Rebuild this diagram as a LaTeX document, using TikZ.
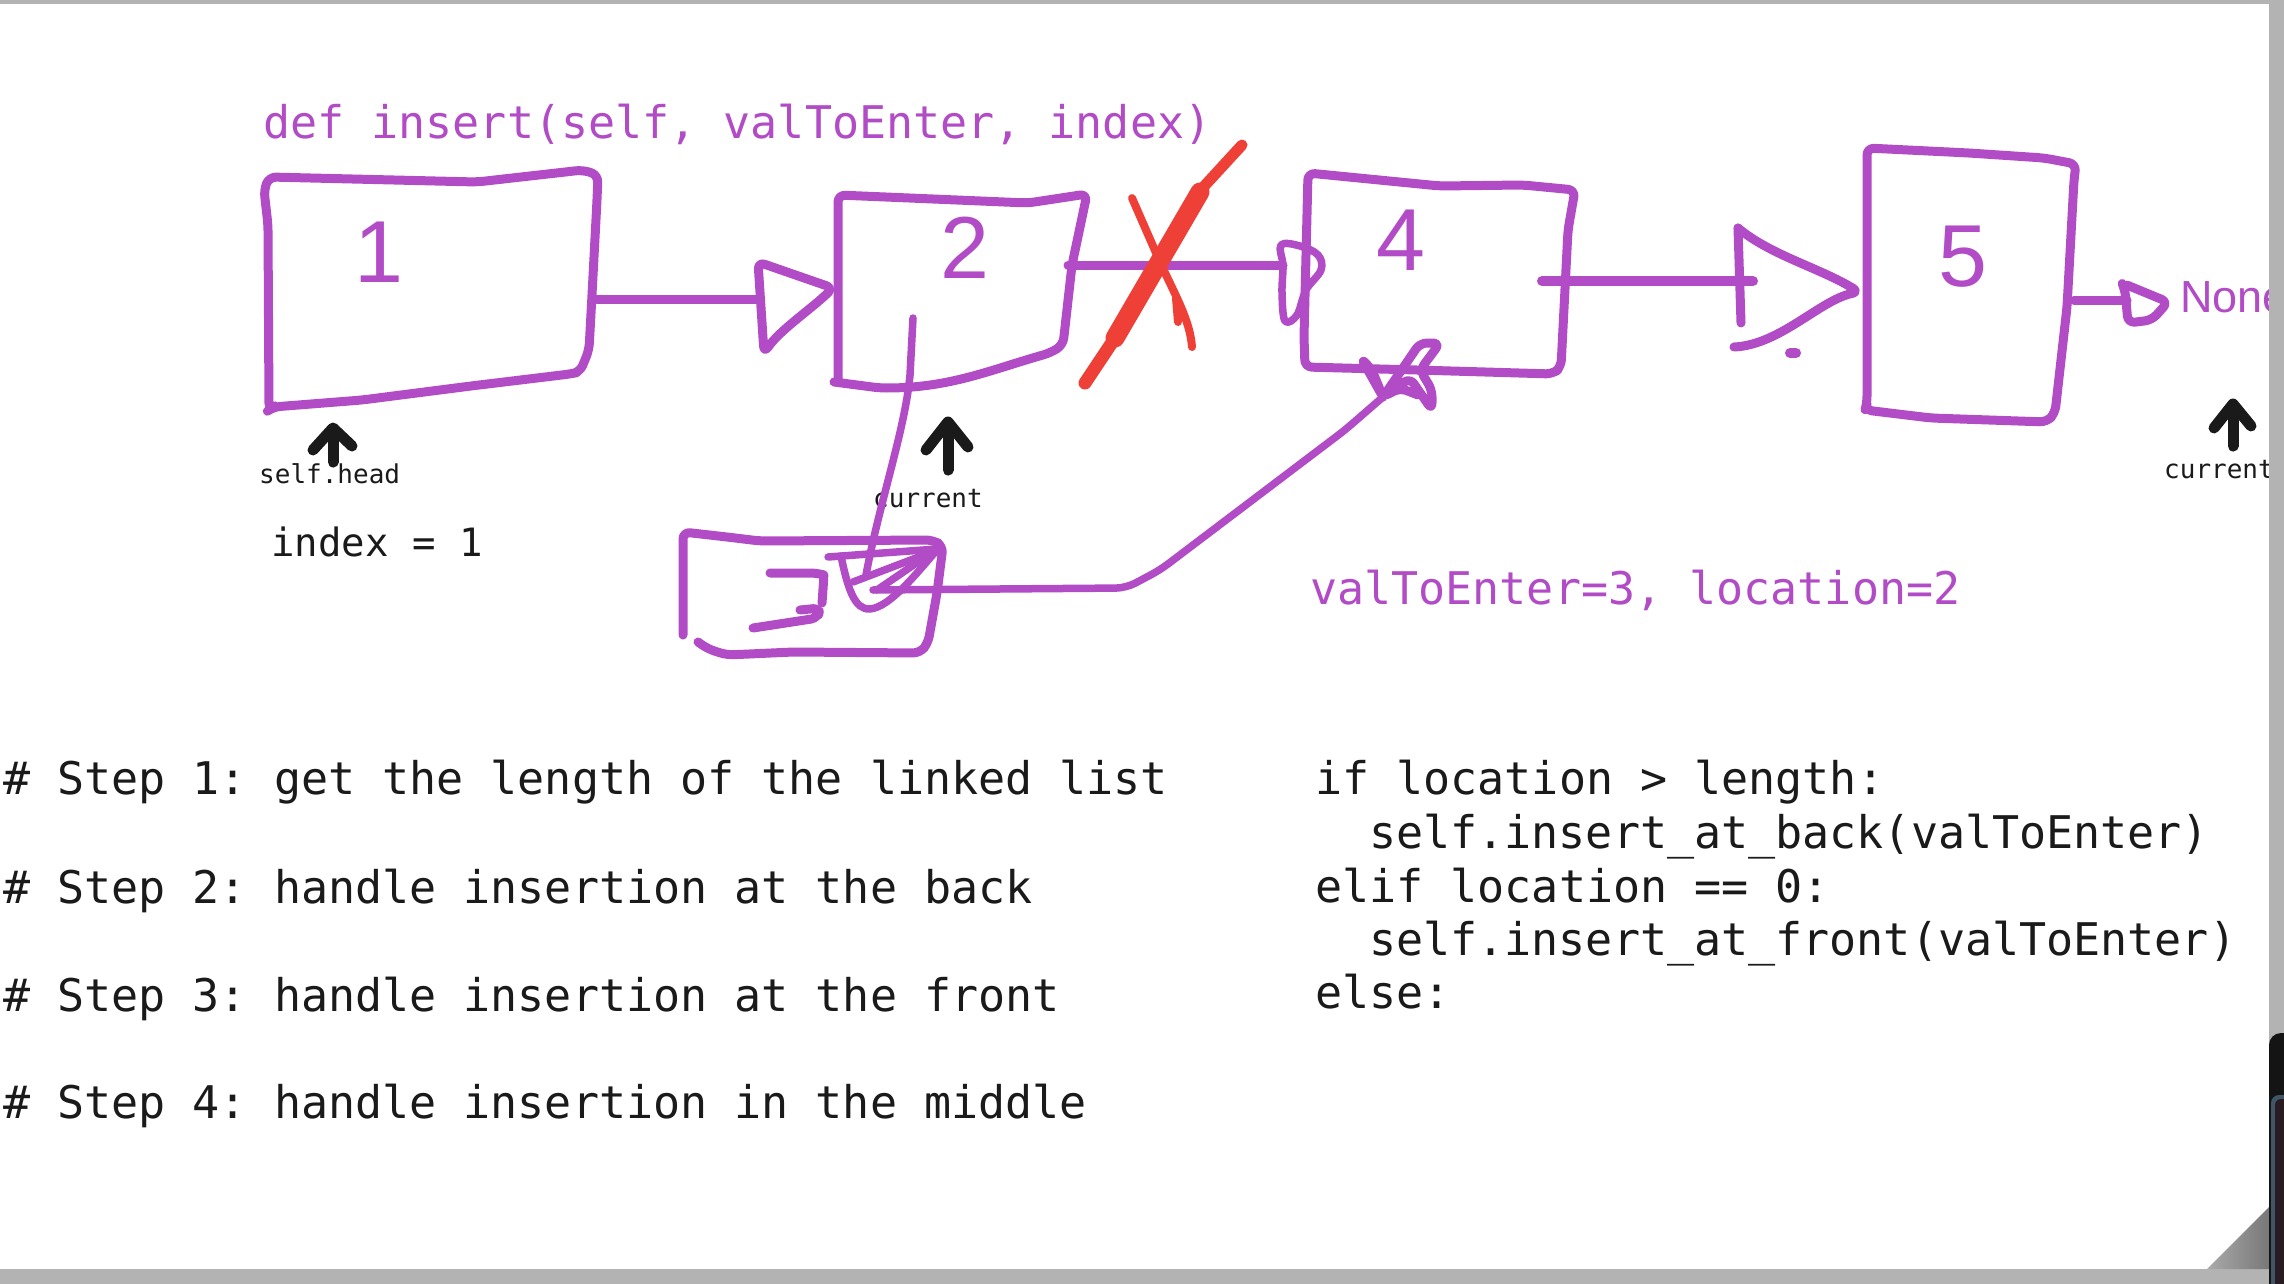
\documentclass[tikz,border=0pt]{standalone}
\usepackage{fontspec}
\setmainfont{Liberation Sans}
\newfontfamily\codefont{DejaVu Sans Mono}
\frenchspacing
\definecolor{pur}{RGB}{178,76,198}
\definecolor{xred}{RGB}{238,64,54}
\definecolor{ink}{RGB}{26,26,26}
\definecolor{frame}{RGB}{179,179,179}
\definecolor{curlA}{RGB}{120,120,120}
\definecolor{curlB}{RGB}{170,170,170}
\definecolor{darkbar}{RGB}{20,20,20}
\definecolor{darkin}{RGB}{40,27,33}
\definecolor{darkedge}{RGB}{62,86,102}
\begin{document}
\begin{tikzpicture}[x=1pt,y=-1pt,line cap=round,line join=round,
  pen/.style={draw=pur,line width=9pt,rounded corners=7pt},
  thinpen/.style={draw=pur,line width=7.5pt},
  codetext/.style={font=\codefont\fontsize{45pt}{53pt}\selectfont,anchor=base west,inner sep=0pt},
  smalltext/.style={font=\codefont\fontsize{26pt}{30pt}\selectfont,anchor=base west,inner sep=0pt,text=ink},
  digit/.style={font=\fontsize{88pt}{88pt}\selectfont,anchor=base,inner sep=0pt,text=pur},
  pointer/.style={draw=ink,line width=11pt}]
\useasboundingbox (0,0) rectangle (2284,1284);
\fill[white] (0,0) rectangle (2284,1284);

% ---------- texts ----------
\node[codetext,text=pur] (title) at (263,139) {def insert(self, valToEnter, index)};
\node[codetext,text=pur] (args) at (1310,604) {valToEnter=3, location=2};
\node[codetext,text=ink,font=\codefont\fontsize{39pt}{45pt}\selectfont] (idx) at (271,556) {index = 1};
\node[codetext,text=ink] (s1) at (3,794) {\# Step 1: get the length of the linked list};
\node[codetext,text=ink] (s2) at (3,903) {\# Step 2: handle insertion at the back};
\node[codetext,text=ink] (s3) at (3,1011) {\# Step 3: handle insertion at the front};
\node[codetext,text=ink] (s4) at (3,1118) {\# Step 4: handle insertion in the middle};
\node[codetext,text=ink] (c1) at (1315,794) {if location > length:};
\node[codetext,text=ink] (c2) at (1369,848) {self.insert\_at\_back(valToEnter)};
\node[codetext,text=ink] (c3) at (1315,902) {elif location == 0:};
\node[codetext,text=ink] (c4) at (1369,955) {self.insert\_at\_front(valToEnter)};
\node[codetext,text=ink] (c5) at (1315,1008) {else:};
\node[smalltext] (headlbl) at (259,483) {self.head};
\node[smalltext] (cur1) at (873,507) {current};
\node[smalltext] (cur2) at (2164,478) {current};
\node[digit] (d1) at (379,283) {1};
\node[digit] (d2) at (965,278) {2};
\node[digit] (d4) at (1401,270) {4};
\node[digit] (d5) at (1963,286) {5};
\node[font=\fontsize{45pt}{45pt}\selectfont,anchor=base west,inner sep=0pt,text=pur] (none) at (2180,312) {None};

% ---------- boxes ----------
\draw[pen] (269,410) -- (268,225) -- (264,190) -- (269,177) -- (477,182) -- (583,170) -- (598,175) -- (597,200) -- (592,295) -- (589,350) -- (580,372) -- (570,374) -- (471,386) -- (362,400) -- (273,407) -- cycle;
\draw[pen] (838,380) -- (838,195) -- (1028,203) -- (1087,194) -- (1072,265) -- (1063,345) -- (1050,353) .. controls (990,370) and (950,388) .. (880,388) -- (834,382);
\draw[pen] (1305,367) -- (1304,337) -- (1308,173) -- (1440,186) -- (1523,185) -- (1575,190) -- (1568,230) -- (1561,367) -- (1553,374) -- (1417,370) -- cycle;
\draw[pen] (1867,148) -- (1969,153) -- (2044,158) -- (2076,164) -- (2074,180) -- (2067,307) -- (2055,413) -- (2047,422) -- (1931,418) -- (1865,410) -- (1867,403) -- cycle;
\draw[pen] (683,635) -- (683,532) -- (727,537) -- (760,541) -- (933,540) -- (943,546) -- (937,593) -- (928,643) -- (920,653) -- (793,652) -- (727,655) -- (708,649) -- (698,642);
% hand-drawn 3
\draw[pen] (770,573) -- (817,573) .. controls (824,575) and (823,590) .. (822,603);
\draw[pen] (800,610) -- (820,608) -- (818,618) -- (753,628);

% ---------- connectors ----------
\coordinate (b1out) at (597,299);
\coordinate (b2in) at (758,299);
\draw[pen] (b1out) -- (b2in);
\draw[pen] (758,262) -- (833,288) .. controls (810,310) and (780,330) .. (764,353) -- cycle;

\coordinate (b2out) at (1068,265);
\coordinate (b4in) at (1283,265);
\draw[pen] (b2out) -- (b4in);
\draw[thinpen] plot[smooth cycle,tension=0.6] coordinates {(1283,266) (1281,245) (1300,246) (1318,255) (1321,270) (1306,290) (1297,315) (1285,321) (1282,293)};

\coordinate (b4out) at (1542,281);
\coordinate (b5in) at (1753,281);
\draw[pen,line width=10pt] (b4out) -- (b5in);
\draw[pen] (1738,228) -- (1741,323);
\draw[pen] (1738,228) .. controls (1770,255) and (1820,268) .. (1859,292) .. controls (1820,300) and (1780,345) .. (1734,347);
\draw[pur,line width=10pt] (1790,353) -- (1796,353);

\coordinate (b5out) at (2074,300);
\coordinate (nonein) at (2127,300);
\draw[pen] (b5out) -- (nonein);
\draw[pen] (2122,283) -- (2168,302) -- (2152,320) -- (2128,323) -- (2125,290) -- cycle;

% box 2 -> new node
\coordinate (b2down) at (913,318);
\coordinate (b3top) at (866,575);
\draw[thinpen] (b2down) -- (910,375) .. controls (905,430) and (880,500) .. (b3top);
\draw[thinpen] (828,557) -- (937,549);
\draw[thinpen] (841,556) .. controls (848,590) and (855,610) .. (870,609) .. controls (890,607) and (915,575) .. (937,550);
\draw[thinpen] (853,582) -- (937,550);
\draw[thinpen] (877,590) -- (937,549);

% new node -> box 4
\coordinate (b3out) at (873,590);
\coordinate (b4bot) at (1383,397);
\draw[thinpen,rounded corners=10pt] (b3out) -- (1126,588) -- (1160,570) -- (1345,430) -- (b4bot);
\draw[pen] (b4bot) -- (1361,358) -- (1372,370) -- (b4bot) -- (1410,378) -- (1432,410) -- (1432,390) -- (1420,370) -- (1440,343) -- (1420,343) -- (1405,365) -- (b4bot) -- (1400,388) -- (1418,395);

% red X
\draw[xred,line width=13pt] (1085,383) -- (1115,338);
\draw[xred,line width=19pt] (1115,338) -- (1200,192);
\draw[xred,line width=11pt] (1197,194) -- (1242,145);
\draw[xred,line width=8pt] (1132,198) -- (1160,262) .. controls (1175,295) and (1190,320) .. (1192,347);
\draw[xred,line width=8pt] (1176,298) -- (1178,322);

% pointers
\draw[pointer] (333,462) -- (333,430);
\draw[pointer] (313,450) -- (333,428) -- (352,446);
\draw[pointer] (948,470) -- (948,424);
\draw[pointer] (926,450) -- (948,422) -- (968,447);
\draw[pointer] (2233,446) -- (2233,406);
\draw[pointer] (2214,428) -- (2233,404) -- (2251,426);

% ---------- frame ----------
\fill[frame] (0,0) rectangle (2284,4);
\fill[frame] (2269,0) rectangle (2284,1284);
\fill[frame] (0,1269) rectangle (2284,1284);
\shade[left color=curlB,right color=curlA] (2207,1269) -- (2269,1207) -- (2269,1269) -- cycle;
\fill[darkbar] (2269,1284) -- (2269,1045) arc[start angle=180,end angle=90,radius=12pt] -- (2284,1033) -- (2284,1284) -- cycle;
\fill[darkedge] (2271,1284) -- (2271,1103) arc[start angle=180,end angle=90,radius=8pt] -- (2284,1095) -- (2284,1284) -- cycle;
\fill[darkin] (2275,1284) -- (2275,1105) arc[start angle=180,end angle=90,radius=6pt] -- (2284,1099) -- (2284,1284) -- cycle;
\end{tikzpicture}
\end{document}
